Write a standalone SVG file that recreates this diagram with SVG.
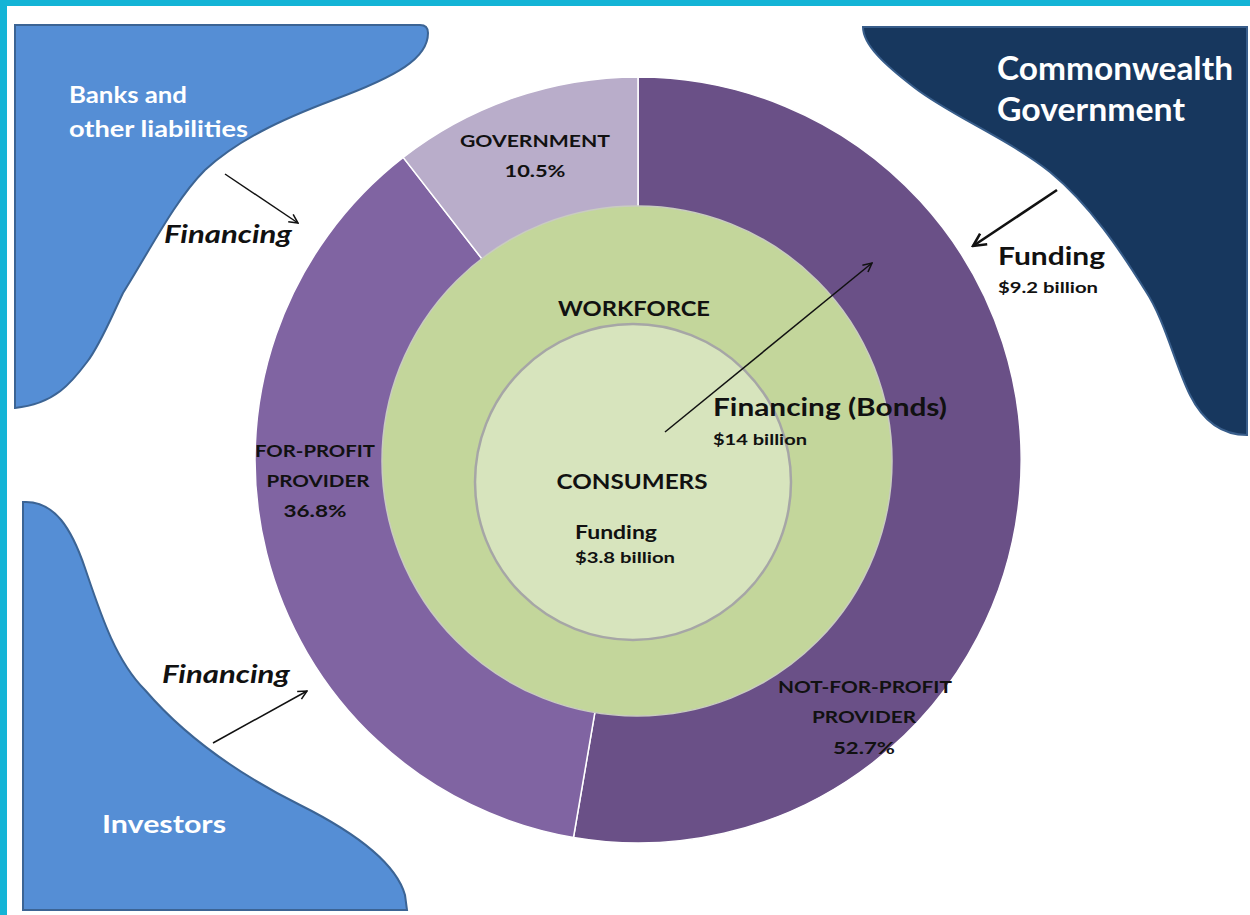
<svg xmlns="http://www.w3.org/2000/svg" width="1250" height="915" viewBox="0 0 1250 915">
<style>
.t{font-family:Lato,"Liberation Sans",sans-serif;font-weight:bold;fill:#111}
.w{fill:#fff}
.it{font-style:italic}
.c{text-anchor:middle}
.seg{stroke:#fff;stroke-width:1.5}
.arr{fill:none;stroke:#111}
</style>
<defs>
<marker id="ah" viewBox="0 0 10 10" refX="9" refY="5" markerWidth="6" markerHeight="6" orient="auto" markerUnits="userSpaceOnUse">
<path d="M1,1 L9,5 L1,9" fill="none" stroke="#111" stroke-width="1.5"/>
</marker>
<marker id="ahb" viewBox="0 0 10 10" refX="9" refY="5" markerWidth="16" markerHeight="16" orient="auto" markerUnits="userSpaceOnUse">
<path d="M1,1 L9,5 L1,9" fill="none" stroke="#111" stroke-width="1.6"/>
</marker>
<marker id="ahs" viewBox="0 0 10 10" refX="9" refY="5" markerWidth="11" markerHeight="11" orient="auto" markerUnits="userSpaceOnUse">
<path d="M1,1 L9,5 L1,9" fill="none" stroke="#111" stroke-width="1.4"/>
</marker>
</defs>
<rect width="1250" height="915" fill="#fff"/>
<rect x="0" y="0" width="1250" height="6" fill="#14B4D6"/>
<rect x="0" y="0" width="7" height="915" fill="#14B4D6"/>

<g id="banks">
<path d="M15,25 H420 Q428,25 428,33 C428,58 398,76 333,100 C280,120 238,140 205,170 C175,200 150,250 123,293 C110,320 100,345 87,362 C72,382 55,404 15,408 Z" fill="#558ED5" stroke="#3C6494" stroke-width="2"/>
<text class="t w" x="69" y="103" font-size="22" textLength="118" lengthAdjust="spacingAndGlyphs">Banks and</text>
<text class="t w" x="69" y="137" font-size="22" textLength="179" lengthAdjust="spacingAndGlyphs">other liabilities</text>
</g>

<g id="commonwealth">
<path d="M863,27 H1247 V435 C1225,435 1205,425 1190,395 C1175,365 1165,320 1145,290 C1120,250 1090,205 1050,172 C1010,140 950,115 915,88 C885,65 863,45 863,27 Z" fill="#17375E" stroke="#385D8A" stroke-width="2"/>
<text class="t w" x="997" y="80" font-size="32" textLength="236" lengthAdjust="spacingAndGlyphs">Commonwealth</text>
<text class="t w" x="997" y="121" font-size="32" textLength="188" lengthAdjust="spacingAndGlyphs">Government</text>
</g>

<g id="investors">
<path d="M23,502 C55,500 72,530 85,568 C100,612 115,660 145,690 C175,725 220,765 300,805 C350,830 395,860 405,895 L407,910 H23 Z" fill="#558ED5" stroke="#3C6494" stroke-width="2"/>
<text class="t w" x="102" y="833" font-size="24" textLength="124" lengthAdjust="spacingAndGlyphs">Investors</text>
</g>

<g id="providers">
<path id="nfp" class="seg" d="M638,460 L638,77 A383,383 0 1 1 573.5,837.5 Z" fill="#6A5087"/>
<path id="fp" class="seg" d="M638,460 L573.5,837.5 A383,383 0 0 1 403.2,157.4 Z" fill="#8064A2"/>
<path id="gov" class="seg" d="M638,460 L403.2,157.4 A383,383 0 0 1 638,77 Z" fill="#B9ADCA"/>
</g>

<g id="workforce">
<circle cx="637" cy="461" r="255" fill="#C3D69B" stroke="#C9CCC0" stroke-width="1.5"/>
<text class="t c" x="634" y="316" font-size="20" textLength="152" lengthAdjust="spacingAndGlyphs">WORKFORCE</text>
</g>

<g id="consumers">
<circle cx="633" cy="482" r="158" fill="#D7E4BD" stroke="#A6A6A6" stroke-width="2.5"/>
<text class="t c" x="632" y="489" font-size="21" textLength="151" lengthAdjust="spacingAndGlyphs">CONSUMERS</text>
<text class="t" x="575" y="539" font-size="19" textLength="82" lengthAdjust="spacingAndGlyphs">Funding</text>
<text class="t" x="575" y="563" font-size="15" textLength="100" lengthAdjust="spacingAndGlyphs">$3.8 billion</text>
</g>

<g id="labels">
<text class="t c" x="535" y="147" font-size="17" textLength="150" lengthAdjust="spacingAndGlyphs">GOVERNMENT</text>
<text class="t c" x="535" y="177" font-size="17" textLength="61" lengthAdjust="spacingAndGlyphs">10.5%</text>
<text class="t c" x="315" y="457" font-size="17" textLength="120" lengthAdjust="spacingAndGlyphs">FOR-PROFIT</text>
<text class="t c" x="318" y="487" font-size="17" textLength="103" lengthAdjust="spacingAndGlyphs">PROVIDER</text>
<text class="t c" x="315" y="517" font-size="17" textLength="63" lengthAdjust="spacingAndGlyphs">36.8%</text>
<text class="t c" x="865" y="693" font-size="17" textLength="174" lengthAdjust="spacingAndGlyphs">NOT-FOR-PROFIT</text>
<text class="t c" x="864" y="723" font-size="17" textLength="104" lengthAdjust="spacingAndGlyphs">PROVIDER</text>
<text class="t c" x="864" y="754" font-size="17" textLength="62" lengthAdjust="spacingAndGlyphs">52.7%</text>
</g>

<g id="connectors">
<line class="arr" x1="225" y1="174" x2="298" y2="223" stroke-width="1.5" marker-end="url(#ahs)"/>
<line class="arr" x1="1057" y1="190" x2="973" y2="246" stroke-width="2.6" marker-end="url(#ahb)"/>
<line class="arr" x1="665" y1="432" x2="872" y2="263" stroke-width="1.5" marker-end="url(#ahs)"/>
<line class="arr" x1="213" y1="743" x2="307" y2="691" stroke-width="1.5" marker-end="url(#ahs)"/>
<text class="t it" x="164" y="243" font-size="24" textLength="128" lengthAdjust="spacingAndGlyphs">Financing</text>
<text class="t it" x="162" y="683" font-size="24" textLength="128" lengthAdjust="spacingAndGlyphs">Financing</text>
<text class="t" x="998" y="265" font-size="25" textLength="107" lengthAdjust="spacingAndGlyphs">Funding</text>
<text class="t" x="998" y="293" font-size="15" textLength="100" lengthAdjust="spacingAndGlyphs">$9.2 billion</text>
<text class="t" x="713" y="416" font-size="25" textLength="234" lengthAdjust="spacingAndGlyphs">Financing (Bonds)</text>
<text class="t" x="713" y="445" font-size="15" textLength="94" lengthAdjust="spacingAndGlyphs">$14 billion</text>
</g>
</svg>
